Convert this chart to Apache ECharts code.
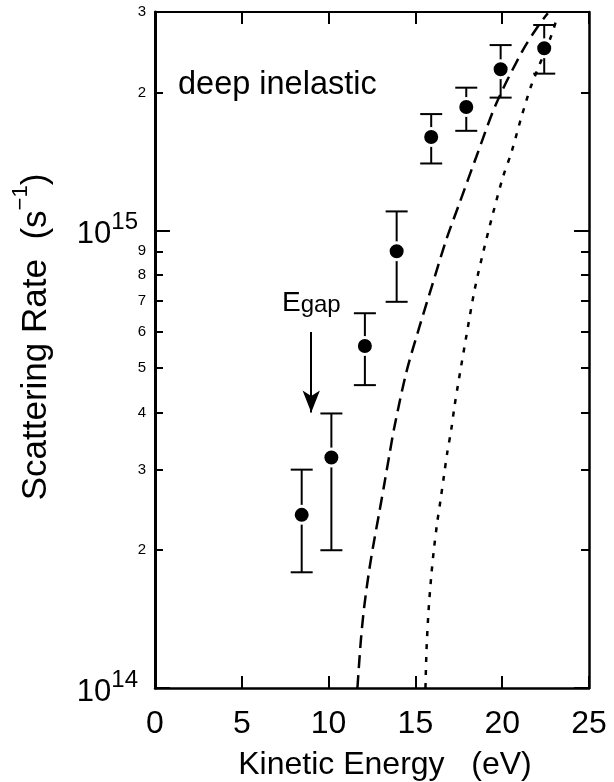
<!DOCTYPE html>
<html><head><meta charset="utf-8">
<script src="https://cdn.jsdelivr.net/npm/echarts@6/dist/echarts.min.js"></script>
<style>html,body{margin:0;padding:0;background:#fff}#c{width:614px;height:782px}</style>
</head><body><div id="c"></div>
<script>
// ---- data ----
const energy   = [8.45, 10.16, 12.09, 13.92, 15.91, 17.93, 19.91, 22.42];
const rate     = [2.39e14, 3.19e14, 5.59e14, 9.0e14, 1.60e15, 1.86e15, 2.25e15, 2.50e15];
const rateHigh = [3.0e14, 3.98e14, 6.59e14, 1.10e15, 1.795e15, 2.05e15, 2.54e15, 2.81e15];
const rateLow  = [1.79e14, 2.0e14, 4.59e14, 6.98e14, 1.40e15, 1.65e15, 1.95e15, 2.20e15];

const dashX = [11.66, 11.86, 12.05, 12.34, 12.63, 12.92, 13.21, 13.50, 13.79, 14.48, 15.23, 16.00, 16.77, 17.54, 18.51, 19.66, 21.20, 22.17, 22.63];
const dashY = [1.0e14, 1.273e14, 1.503e14, 1.81e14, 2.106e14, 2.42e14, 2.79e14, 3.23e14, 3.72e14, 4.90e14, 6.15e14, 7.66e14, 9.52e14, 1.147e15, 1.448e15, 1.894e15, 2.48e15, 2.83e15, 2.98e15];

const dotX = [15.58, 15.64, 15.76, 15.91, 16.06, 16.25, 16.45, 16.64, 16.83, 17.06, 17.25, 17.45, 17.93, 18.41, 18.89, 19.47, 20.05, 20.53, 21.11, 21.69, 22.84, 23.15];
const dotY = [1.0e14, 1.21e14, 1.48e14, 1.75e14, 2.0e14, 2.29e14, 2.58e14, 2.90e14, 3.26e14, 3.66e14, 4.12e14, 4.59e14, 5.86e14, 7.41e14, 8.91e14, 1.089e15, 1.31e15, 1.48e15, 1.77e15, 2.08e15, 2.67e15, 2.91e15];

const xTicks = [0, 5, 10, 15, 20, 25];
const yMajorTicks = [1e14, 1e15];
const yMinorTicks = [2e14, 3e14, 4e14, 5e14, 6e14, 7e14, 8e14, 9e14, 2e15, 3e15];
const yRange = [1e14, 3e15];

const gapArrowX = 9.0;
const gapArrowFrom = 6.0e14;
const gapArrowTo = 4.0e14;

// ---- build ----
const FONT = "'Liberation Sans', Arial, Helvetica, sans-serif";
const L = v => Math.log10(v);
const yMin = L(yRange[0]), yMax = L(yRange[1]);

const points = energy.map((x, i) => [x, L(rate[i])]);
const bars = energy.map((x, i) => [x, L(rateLow[i]), L(rateHigh[i])]);
const dashData = dashX.map((x, i) => [x, L(dashY[i])]);
const dotData = dotX.map((x, i) => [x, L(dotY[i])]);

const majorVals = yMajorTicks.map(L);
const minorVals = yMinorTicks.map(L);

function yAxisBase(extra) {
  return Object.assign({
    type: 'value', min: yMin, max: yMax,
    splitLine: { show: false },
    axisLine: { show: false, onZero: false },
  }, extra);
}

const option = {
  backgroundColor: '#fff',
  animation: false,
  textStyle: { fontFamily: FONT, color: '#000' },
  grid: { left: 155, right: 25, top: 12, bottom: 94, containLabel: false, outerBoundsMode: 'none' },
  xAxis: [
    {
      type: 'value', position: 'bottom', min: xTicks[0], max: xTicks[xTicks.length - 1], interval: 5,
      axisLine: { show: true, onZero: false, lineStyle: { color: '#000', width: 2.5 } },
      axisTick: { show: true, inside: true, length: 12, lineStyle: { color: '#000', width: 2 } },
      axisLabel: { show: true, margin: 20, fontSize: 32, color: '#000', fontFamily: FONT, showMinLabel: true, showMaxLabel: true },
      splitLine: { show: false },
      name: 'Kinetic Energy   (eV)', nameLocation: 'middle', nameGap: 61,
      nameTextStyle: { fontSize: 32, color: '#000', fontFamily: FONT, padding: [0, 0, 0, 26] }
    },
    {
      type: 'value', position: 'top', min: xTicks[0], max: xTicks[xTicks.length - 1], interval: 5,
      axisLine: { show: true, onZero: false, lineStyle: { color: '#000', width: 2 } },
      axisTick: { show: true, inside: true, length: 12, lineStyle: { color: '#000', width: 2 } },
      axisLabel: { show: false }, splitLine: { show: false }
    }
  ],
  yAxis: [
    yAxisBase({
      position: 'left',
      axisLine: { show: true, onZero: false, lineStyle: { color: '#000', width: 3 } },
      axisTick: { show: true, inside: true, length: 15, customValues: majorVals, lineStyle: { color: '#000', width: 2 } },
      axisLabel: {
        show: true, margin: 17, customValues: majorVals,
        formatter: v => '{b|10}{s|' + Math.round(v) + '}',
        rich: {
          b: { fontSize: 31, fontFamily: FONT, color: '#000', lineHeight: 40, verticalAlign: 'bottom' },
          s: { fontSize: 24, fontFamily: FONT, color: '#000', lineHeight: 24, verticalAlign: 'top' }
        }
      },
      name: '{n|Scattering Rate  (s}{u|\u22121}{n|)}', nameLocation: 'middle', nameGap: 101, nameRotate: 90,
      nameTextStyle: {
        padding: [0, 0, 0, 26],
        rich: {
          n: { fontSize: 35, fontFamily: FONT, color: '#000', lineHeight: 44, verticalAlign: 'bottom' },
          u: { fontSize: 22, fontFamily: FONT, color: '#000', lineHeight: 24, verticalAlign: 'top' }
        }
      }
    }),
    yAxisBase({
      position: 'left',
      axisTick: { show: true, inside: true, length: 8, customValues: minorVals, lineStyle: { color: '#000', width: 2 } },
      axisLabel: {
        show: true, margin: 9, customValues: minorVals, fontSize: 15, color: '#000', fontFamily: FONT,
        formatter: v => String(Math.round(Math.pow(10, v - Math.floor(v + 1e-9))))
      }
    }),
    yAxisBase({
      position: 'right',
      axisLine: { show: true, onZero: false, lineStyle: { color: '#000', width: 2.5 } },
      axisTick: { show: true, inside: true, length: 15, customValues: majorVals, lineStyle: { color: '#000', width: 2 } },
      axisLabel: { show: false }
    }),
    yAxisBase({
      position: 'right',
      axisTick: { show: true, inside: true, length: 8, customValues: minorVals, lineStyle: { color: '#000', width: 2 } },
      axisLabel: { show: false }
    })
  ],
  graphic: [
    { type: 'text', left: 178, top: 69, style: { text: 'deep inelastic', fontSize: 32.5, fontFamily: FONT, fill: '#000' } },
    { type: 'text', left: 282, top: 289, style: {
        text: '{E|E}{g|gap}', fontFamily: FONT, fill: '#000',
        rich: {
          E: { fontSize: 28, fontFamily: FONT, lineHeight: 28, verticalAlign: 'top' },
          g: { fontSize: 24, fontFamily: FONT, lineHeight: 24, verticalAlign: 'bottom' }
        }
      } }
  ],
  series: [
    {
      type: 'line', data: dashData, xAxisIndex: 0, yAxisIndex: 0, showSymbol: false, symbol: 'none', smooth: 0.3,
      lineStyle: { color: '#000', width: 2.5, type: [13, 7] }, z: 2
    },
    {
      type: 'line', data: dotData, xAxisIndex: 0, yAxisIndex: 0, showSymbol: false, symbol: 'none', smooth: 0.3,
      lineStyle: { color: '#000', width: 2.5, type: [5, 8] }, z: 2
    },
    {
      type: 'custom', data: bars, xAxisIndex: 0, yAxisIndex: 0, z: 3,
      renderItem: (params, api) => {
        const x = api.value(0);
        const pLo = api.coord([x, api.value(1)]);
        const pHi = api.coord([x, api.value(2)]);
        const hw = 11;
        const st = { stroke: '#000', lineWidth: 2 };
        return { type: 'group', children: [
          { type: 'line', shape: { x1: pLo[0], y1: pLo[1], x2: pHi[0], y2: pHi[1] }, style: st },
          { type: 'line', shape: { x1: pLo[0] - hw, y1: pLo[1], x2: pLo[0] + hw, y2: pLo[1] }, style: st },
          { type: 'line', shape: { x1: pHi[0] - hw, y1: pHi[1], x2: pHi[0] + hw, y2: pHi[1] }, style: st }
        ] };
      }
    },
    {
      type: 'scatter', data: points, xAxisIndex: 0, yAxisIndex: 0, z: 4,
      symbol: 'circle', symbolSize: 17,
      itemStyle: { color: '#000', borderColor: '#fff', borderWidth: 3, opacity: 1 },
      markLine: {
        silent: true, animation: false,
        symbol: ['none', 'arrow'], symbolSize: [13, 22],
        lineStyle: { color: '#000', width: 2, type: 'solid' },
        label: { show: false },
        data: [[ { coord: [gapArrowX, L(gapArrowFrom)] }, { coord: [gapArrowX, L(gapArrowTo)] } ]]
      }
    }
  ]
};

const chart = echarts.init(document.getElementById('c'), null, { renderer: 'canvas' });
chart.setOption(option);
</script>
</body></html>
